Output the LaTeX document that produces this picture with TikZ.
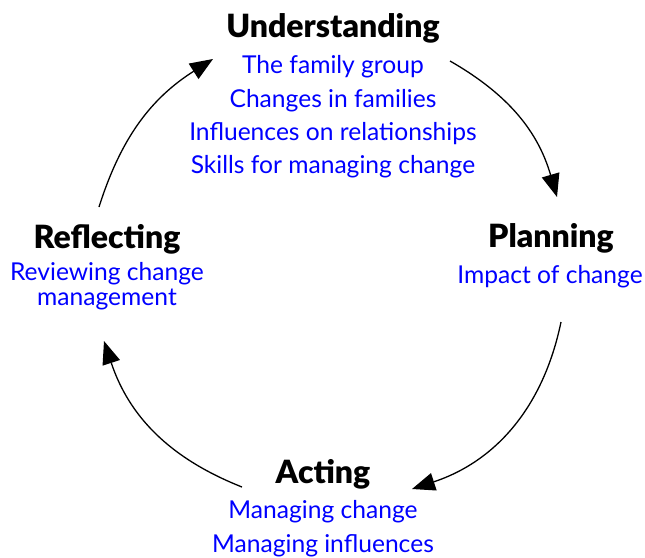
\documentclass[tikz,border=0pt]{standalone}
\usepackage{fontspec}
\setmainfont{Lato}
\newfontfamily\heavyfont{Lato Black}
\usetikzlibrary{arrows.meta}
\begin{document}
\begin{tikzpicture}[x=1pt,y=-1pt,
  stage/.style={font=\fontsize{32}{32}\heavyfont, text=black, anchor=base, inner sep=0pt},
  topic/.style={font=\fontsize{24.6}{24.6}\selectfont, text=blue, anchor=base, inner sep=0pt},
  cyc/.style={line width=1.3pt, -{Triangle[length=23pt,width=18pt]}}]
\useasboundingbox (0,0) rectangle (645,557);
% Understanding
\node[stage] (und) at (333,37) {Understanding};
\node[topic] (und1) at (333,73) {The family group};
\node[topic] (und2) at (333,107) {Changes in families};
\node[topic] (und3) at (333,140) {Influences on relationships};
\node[topic] (und4) at (333,173) {Skills for managing change};
% Planning
\node[stage] (pla) at (551,247) {Planning};
\node[topic] (pla1) at (550,283) {Impact of change};
% Acting
\node[stage] (act) at (323,483) {Acting};
\node[topic] (act1) at (323,518) {Managing change};
\node[topic] (act2) at (323,552) {Managing influences};
% Reflecting
\node[stage] (ref) at (107,248) {Reflecting};
\node[topic] (ref1) at (107,280) {Reviewing change};
\node[topic] (ref2) at (107,305) {management};
% arrow end points
\coordinate (a1s) at (450,61);  \coordinate (a1e) at (557,197);
\coordinate (a2s) at (561,322); \coordinate (a2e) at (412,489);
\coordinate (a3s) at (242,487); \coordinate (a3e) at (104,341);
\coordinate (a4s) at (99,207);  \coordinate (a4e) at (213,59);
\draw[cyc] (a1s) to[bend left=22] (a1e);
\draw[cyc] (a2s) to[bend left=30] (a2e);
\draw[cyc] (a3s) to[bend left=25] (a3e);
\draw[cyc] (a4s) to[bend left=20] (a4e);
\end{tikzpicture}
\end{document}
